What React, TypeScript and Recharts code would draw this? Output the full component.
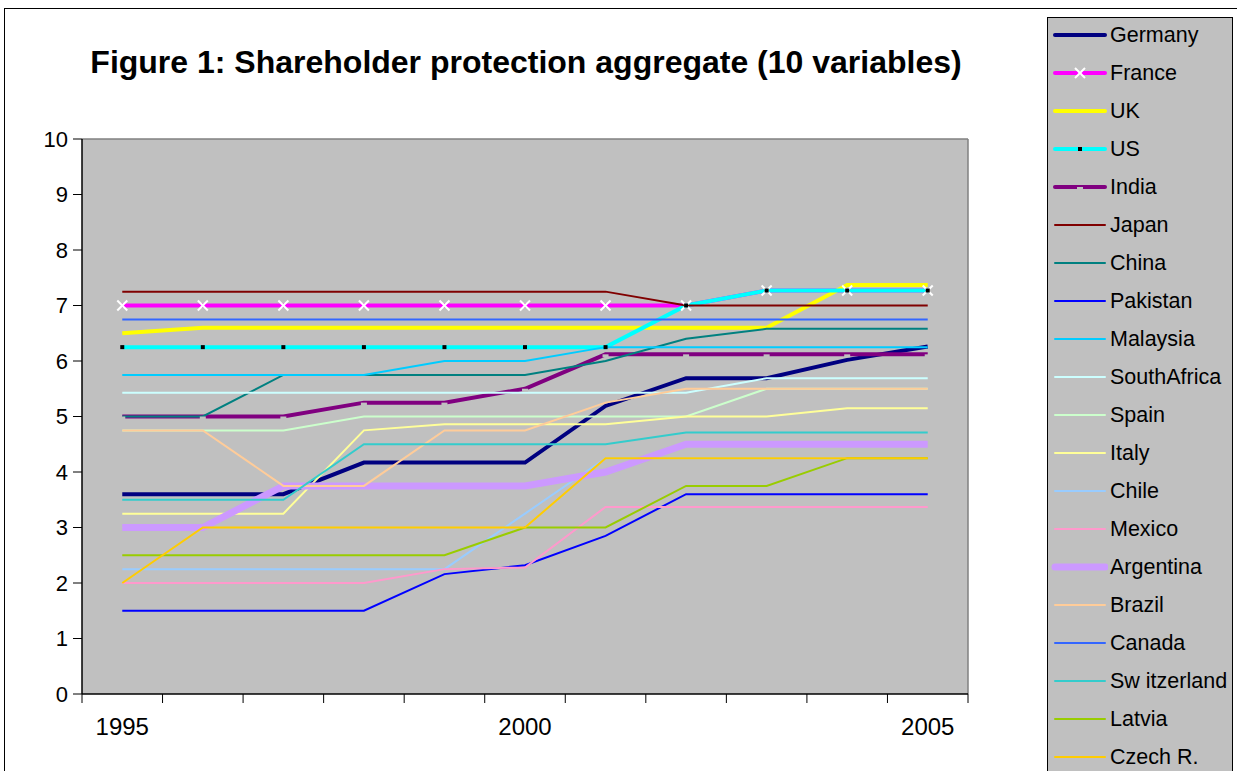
import React from 'react';
import { CartesianGrid, Line, LineChart, ReferenceLine, XAxis, YAxis } from 'recharts';

const years = [1995, 1996, 1997, 1998, 1999, 2000, 2001, 2002, 2003, 2004, 2005];
const yTicks = [0, 1, 2, 3, 4, 5, 6, 7, 8, 9, 10];
const yearLabels = [1995, 2000, 2005];
const boundaryTicks = [1994.5, 1995.5, 1996.5, 1997.5, 1998.5, 1999.5, 2000.5, 2001.5, 2002.5, 2003.5, 2004.5, 2005.5];

const germany = [3.6, 3.6, 3.6, 4.17, 4.17, 4.17, 5.19, 5.69, 5.69, 6.02, 6.26];
const france = [7, 7, 7, 7, 7, 7, 7, 7, 7.27, 7.27, 7.27];
const uk = [6.5, 6.6, 6.6, 6.6, 6.6, 6.6, 6.6, 6.6, 6.6, 7.37, 7.37];
const us = [6.25, 6.25, 6.25, 6.25, 6.25, 6.25, 6.25, 7, 7.27, 7.27, 7.27];
const india = [5, 5, 5, 5.25, 5.25, 5.5, 6.12, 6.12, 6.12, 6.12, 6.12];
const japan = [7.25, 7.25, 7.25, 7.25, 7.25, 7.25, 7.25, 7, 7, 7, 7];
const china = [5, 5, 5.75, 5.75, 5.75, 5.75, 6, 6.4, 6.58, 6.58, 6.58];
const pakistan = [1.5, 1.5, 1.5, 1.5, 2.16, 2.32, 2.85, 3.6, 3.6, 3.6, 3.6];
const malaysia = [5.75, 5.75, 5.75, 5.75, 6, 6, 6.25, 6.25, 6.25, 6.25, 6.25];
const southAfrica = [5.43, 5.43, 5.43, 5.43, 5.43, 5.43, 5.43, 5.43, 5.69, 5.69, 5.69];
const spain = [4.75, 4.75, 4.75, 5, 5, 5, 5, 5, 5.5, 5.5, 5.5];
const italy = [3.25, 3.25, 3.25, 4.75, 4.86, 4.86, 4.86, 5, 5, 5.15, 5.15];
const chile = [2.25, 2.25, 2.25, 2.25, 2.25, 3.25, 4.25, 4.25, 4.25, 4.25, 4.25];
const mexico = [2, 2, 2, 2, 2.25, 2.28, 3.37, 3.37, 3.37, 3.37, 3.37];
const argentina = [3, 3, 3.75, 3.75, 3.75, 3.75, 4, 4.5, 4.5, 4.5, 4.5];
const brazil = [4.75, 4.75, 3.75, 3.75, 4.75, 4.75, 5.25, 5.5, 5.5, 5.5, 5.5];
const canada = [6.75, 6.75, 6.75, 6.75, 6.75, 6.75, 6.75, 6.75, 6.75, 6.75, 6.75];
const switzerland = [3.5, 3.5, 3.5, 4.5, 4.5, 4.5, 4.5, 4.71, 4.71, 4.71, 4.71];
const latvia = [2.5, 2.5, 2.5, 2.5, 2.5, 3, 3, 3.75, 3.75, 4.25, 4.25];
const czech = [2, 3, 3, 3, 3, 3, 4.25, 4.25, 4.25, 4.25, 4.25];

type Mark = 'none' | 'cross' | 'square' | 'dash';

const series: { key: string; name: string; values: number[]; color: string; width: number; mark: Mark }[] = [
  { key: 'germany', name: 'Germany', values: germany, color: '#000080', width: 4, mark: 'none' },
  { key: 'france', name: 'France', values: france, color: '#FF00FF', width: 4, mark: 'cross' },
  { key: 'uk', name: 'UK', values: uk, color: '#FFFF00', width: 4, mark: 'none' },
  { key: 'us', name: 'US', values: us, color: '#00FFFF', width: 4, mark: 'square' },
  { key: 'india', name: 'India', values: india, color: '#800080', width: 4, mark: 'dash' },
  { key: 'japan', name: 'Japan', values: japan, color: '#800000', width: 2, mark: 'none' },
  { key: 'china', name: 'China', values: china, color: '#008080', width: 2, mark: 'none' },
  { key: 'pakistan', name: 'Pakistan', values: pakistan, color: '#0000FF', width: 2, mark: 'none' },
  { key: 'malaysia', name: 'Malaysia', values: malaysia, color: '#00CCFF', width: 2, mark: 'none' },
  { key: 'southAfrica', name: 'SouthAfrica', values: southAfrica, color: '#CCFFFF', width: 2, mark: 'none' },
  { key: 'spain', name: 'Spain', values: spain, color: '#CCFFCC', width: 2, mark: 'none' },
  { key: 'italy', name: 'Italy', values: italy, color: '#FFFF99', width: 2, mark: 'none' },
  { key: 'chile', name: 'Chile', values: chile, color: '#99CCFF', width: 2, mark: 'none' },
  { key: 'mexico', name: 'Mexico', values: mexico, color: '#FF99CC', width: 2, mark: 'none' },
  { key: 'argentina', name: 'Argentina', values: argentina, color: '#CC99FF', width: 7, mark: 'none' },
  { key: 'brazil', name: 'Brazil', values: brazil, color: '#FFCC99', width: 2, mark: 'none' },
  { key: 'canada', name: 'Canada', values: canada, color: '#3366FF', width: 2, mark: 'none' },
  { key: 'switzerland', name: 'Sw itzerland', values: switzerland, color: '#33CCCC', width: 2, mark: 'none' },
  { key: 'latvia', name: 'Latvia', values: latvia, color: '#99CC00', width: 2, mark: 'none' },
  { key: 'czech', name: 'Czech R.', values: czech, color: '#FFCC00', width: 2, mark: 'none' },
];

const data = years.map((year, i) => {
  const row: Record<string, number> = { year };
  series.forEach((s) => {
    row[s.key] = s.values[i];
  });
  return row;
});

const FONT = 'Arial, "Liberation Sans", sans-serif';

function Marker({ cx, cy, mark }: { cx: number; cy: number; mark: Mark }) {
  if (mark === 'cross') {
    return (
      <g stroke="#FFFFFF" strokeWidth={2}>
        <line x1={cx - 5} y1={cy - 5} x2={cx + 5} y2={cy + 5} />
        <line x1={cx - 5} y1={cy + 5} x2={cx + 5} y2={cy - 5} />
      </g>
    );
  }
  if (mark === 'square') return <rect x={cx - 2} y={cy - 2} width={4} height={4} fill="#000000" />;
  if (mark === 'dash') return <rect x={cx - 3} y={cy} width={6} height={3} fill="#C0C0C0" />;
  return null;
}

function makeDot(mark: Mark) {
  if (mark === 'none') return false;
  return (props: any) => <Marker key={props.index} cx={props.cx} cy={props.cy} mark={mark} />;
}

function LegendBox() {
  return (
    <div
      style={{
        position: 'absolute',
        left: 1047,
        top: 17,
        width: 184,
        height: 780,
        border: '1px solid #000',
        background: '#C0C0C0',
        fontFamily: FONT,
        fontSize: 21.5,
      }}
    >
      {series.map((s, i) => (
        <div key={s.key} style={{ position: 'absolute', left: 0, top: 17 + i * 38 - 13, height: 26, width: 184 }}>
          <svg width={60} height={26} style={{ position: 'absolute', left: 0, top: 0 }}>
            <line x1={7} y1={13} x2={57} y2={13} stroke={s.color} strokeWidth={s.width} strokeLinecap="round" />
            <Marker cx={32} cy={13} mark={s.mark} />
          </svg>
          <span style={{ position: 'absolute', left: 62, top: 0, lineHeight: '26px', whiteSpace: 'nowrap' }}>{s.name}</span>
        </div>
      ))}
    </div>
  );
}

export default function App() {
  return (
    <div style={{ position: 'absolute', left: 0, top: 0, width: 1237, height: 771, overflow: 'hidden', background: '#fff' }}>
      <div
        style={{
          position: 'absolute',
          left: 4,
          top: 8,
          width: 1260,
          height: 800,
          border: '1px solid #000',
        }}
      />
      <div
        style={{
          position: 'absolute',
          left: 82,
          width: 888,
          top: 41,
          textAlign: 'center',
          fontFamily: FONT,
          fontWeight: 'bold',
          fontSize: 32,
          lineHeight: '42px',
          whiteSpace: 'nowrap',
        }}
      >
        Figure 1: Shareholder protection aggregate (10 variables)
      </div>
      <div style={{ position: 'absolute', left: 0, top: 0 }}>
        <LineChart width={1040} height={771} data={data} margin={{ top: 139, right: 72, bottom: 17, left: 4 }}>
          <CartesianGrid xAxisId="a_marks" horizontal={false} vertical={false} fill="#C0C0C0" />
          <XAxis
            xAxisId="a_marks"
            dataKey="year"
            type="number"
            domain={[1994.5, 2005.5]}
            ticks={boundaryTicks}
            tickFormatter={() => ''}
            tickSize={9}
            height={10}
            stroke="#000"
            tickLine={{ stroke: '#000', strokeWidth: 1 }}
            axisLine={{ stroke: '#000', strokeWidth: 1.5 }}
          />
          <XAxis
            xAxisId="b_labels"
            dataKey="year"
            type="number"
            domain={[1994.5, 2005.5]}
            ticks={yearLabels}
            axisLine={false}
            tickLine={false}
            tickSize={0}
            tickMargin={14}
            height={50}
            tick={{ fill: '#000', fontSize: 24, fontFamily: FONT }}
          />
          <YAxis
            type="number"
            domain={[0, 10]}
            ticks={yTicks}
            width={78}
            tickSize={9}
            tickMargin={5}
            stroke="#000"
            axisLine={{ stroke: '#000', strokeWidth: 1.5 }}
            tick={{ fill: '#000', fontSize: 22, fontFamily: FONT }}
          />
          <ReferenceLine xAxisId="a_marks" y={10} stroke="#808080" strokeWidth={1.5} />
          <ReferenceLine xAxisId="a_marks" x={2005.5} stroke="#808080" strokeWidth={1.5} />
          {series.map((s) => (
            <Line
              key={s.key}
              xAxisId="a_marks"
              dataKey={s.key}
              name={s.name}
              type="linear"
              stroke={s.color}
              strokeWidth={s.width}
              dot={makeDot(s.mark)}
              activeDot={false}
              isAnimationActive={false}
            />
          ))}
        </LineChart>
      </div>
      <LegendBox />
    </div>
  );
}
